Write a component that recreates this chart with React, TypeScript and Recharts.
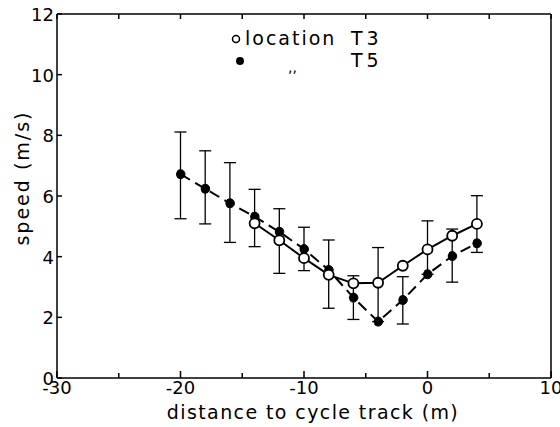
import { ComposedChart, Line, XAxis, YAxis, ErrorBar } from 'recharts';

// distance to cycle track (m)
const distances = [-20, -18, -16, -14, -12, -10, -8, -6, -4, -2, 0, 2, 4];
// location T3 (open circles)
const speedT3 = [null, null, null, 5.1, 4.54, 3.95, 3.4, 3.12, 3.14, 3.7, 4.24, 4.69, 5.08];
// location T5 (filled circles)
const speedT5 = [6.72, 6.24, 5.76, 5.32, 4.82, 4.25, 3.56, 2.65, 1.86, 2.57, 3.42, 4.02, 4.44];
// error bar ends
const errLow = [5.25, 5.08, 4.47, 4.33, 3.45, 3.54, 2.3, 1.93, 1.86, 1.78, 3.42, 3.16, 4.14];
const errHigh = [8.11, 7.49, 7.1, 6.22, 5.58, 4.97, 4.55, 3.37, 4.3, 3.34, 5.18, 4.91, 6.01];

const xTicks = [-30, -25, -20, -15, -10, -5, 0, 5, 10];
const yTicks = [0, 2, 4, 6, 8, 10, 12];

const data = distances.map((d, i) => ({
    d,
    t3: speedT3[i],
    t5: speedT5[i],
    lo: errLow[i],
    err: [0, +(errHigh[i] - errLow[i]).toFixed(2)],
}));

const font = '"DejaVu Sans", sans-serif';

const BottomTick = (props: any) => {
    const { x, y, payload } = props;
    const major = payload.value % 10 === 0;
    return (
        <g>
            <line x1={x} x2={x} y1={y} y2={y - (major ? 7 : 5)} stroke="#000" strokeWidth={1.5} />
            {major && (
                <text x={x} y={y + 16} textAnchor="middle" fontSize={18} fontFamily={font} fill="#000">
                    {payload.value}
                </text>
            )}
        </g>
    );
};

const TopTick = (props: any) => {
    const { x, y } = props;
    return <line x1={x} x2={x} y1={y} y2={y + 5} stroke="#000" strokeWidth={1.5} />;
};

const LeftTick = (props: any) => {
    const { x, y, payload } = props;
    return (
        <g>
            <line x1={x} x2={x + 5} y1={y} y2={y} stroke="#000" strokeWidth={1.5} />
            <text x={x - 3} y={y + 7} textAnchor="end" fontSize={18} fontFamily={font} fill="#000">
                {payload.value}
            </text>
        </g>
    );
};

const RightTick = (props: any) => {
    const { x, y } = props;
    return <line x1={x} x2={x - 5} y1={y} y2={y} stroke="#000" strokeWidth={1.5} />;
};

const labelStyle = {
    position: 'absolute' as const,
    fontFamily: font,
    fontSize: 19,
    whiteSpace: 'nowrap' as const,
    lineHeight: 1,
    color: '#000',
};

export default function App() {
    return (
        <div style={{ position: 'absolute', left: 0, top: 0, width: 560, height: 427, background: '#fff' }}>
            <ComposedChart width={560} height={427} data={data} margin={{ top: 13, right: 8, bottom: 0, left: 0 }}>
                <XAxis
                    dataKey="d"
                    type="number"
                    domain={[-30, 10]}
                    ticks={xTicks}
                    tick={<BottomTick />}
                    tickSize={0}
                    tickMargin={0}
                    height={49}
                    axisLine={{ stroke: '#000', strokeWidth: 1.5 }}
                    interval={0}
                />
                <XAxis
                    xAxisId="top"
                    dataKey="d"
                    type="number"
                    orientation="top"
                    domain={[-30, 10]}
                    ticks={xTicks}
                    tick={<TopTick />}
                    tickSize={0}
                    tickMargin={0}
                    height={1}
                    axisLine={{ stroke: '#000', strokeWidth: 1.5 }}
                    interval={0}
                />
                <YAxis
                    type="number"
                    domain={[0, 12]}
                    ticks={yTicks}
                    tick={<LeftTick />}
                    tickSize={0}
                    tickMargin={0}
                    width={57}
                    axisLine={{ stroke: '#000', strokeWidth: 1.5 }}
                    interval={0}
                />
                <YAxis
                    yAxisId="right"
                    orientation="right"
                    type="number"
                    domain={[0, 12]}
                    ticks={yTicks}
                    tick={<RightTick />}
                    tickSize={0}
                    tickMargin={0}
                    width={1}
                    axisLine={{ stroke: '#000', strokeWidth: 1.5 }}
                    interval={0}
                />
                <Line
                    dataKey="lo"
                    stroke="none"
                    dot={false}
                    activeDot={false}
                    isAnimationActive={false}
                >
                    <ErrorBar dataKey="err" width={6} stroke="#000" strokeWidth={1.3} direction="y" />
                </Line>
                <Line
                    dataKey="t5"
                    stroke="#000"
                    strokeWidth={2}
                    strokeDasharray="11 6"
                    dot={{ r: 4.5, fill: '#000', stroke: '#000', strokeWidth: 1 }}
                    activeDot={false}
                    isAnimationActive={false}
                />
                <Line
                    dataKey="t3"
                    stroke="#000"
                    strokeWidth={2}
                    dot={{ r: 5, fill: '#fff', stroke: '#000', strokeWidth: 1.8 }}
                    activeDot={false}
                    isAnimationActive={false}
                    connectNulls={false}
                />
            </ComposedChart>
            <div style={{ ...labelStyle, left: 313, top: 412, letterSpacing: 1.4, transform: 'translate(-50%, -50%)' }}>
                distance to cycle track (m)
            </div>
            <div
                style={{
                    ...labelStyle,
                    left: 22,
                    top: 178,
                    letterSpacing: 2,
                    transform: 'translate(-50%, -50%) rotate(-90deg)',
                }}
            >
                speed (m/s)
            </div>
            <svg style={{ position: 'absolute', left: 0, top: 0 }} width={560} height={427}>
                <circle cx={236} cy={39} r={3.5} fill="#fff" stroke="#000" strokeWidth={1.5} />
                <text x={245} y={45} fontSize={19} letterSpacing={2} fontFamily={font} fill="#000">location</text>
                <text x={351} y={45} fontSize={19} letterSpacing={4} fontFamily={font} fill="#000">T3</text>
                <circle cx={240} cy={61} r={4} fill="#000" />
                <text x={288} y={72} fontSize={14} fontFamily={font} fill="#000">,,</text>
                <text x={351} y={67} fontSize={19} letterSpacing={4} fontFamily={font} fill="#000">T5</text>
            </svg>
        </div>
    );
}
